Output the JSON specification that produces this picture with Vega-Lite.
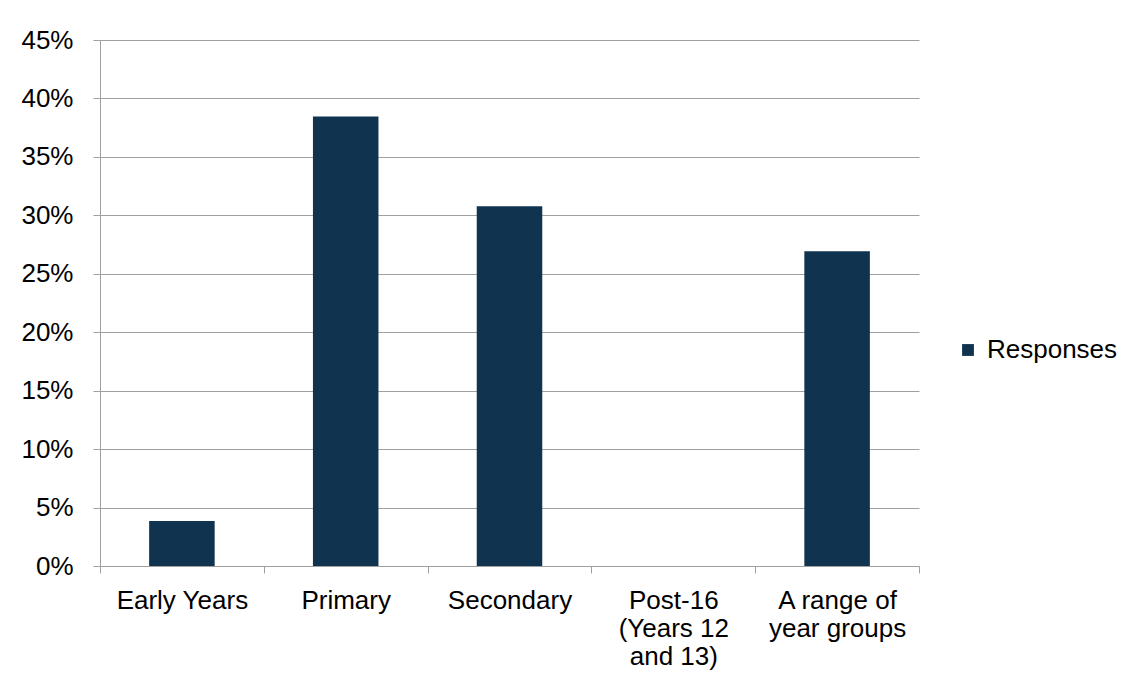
{
  "$schema": "https://vega.github.io/schema/vega-lite/v6.json",
  "width": 819,
  "height": 526,
  "autosize": {"type": "none"},
  "padding": {"left": 100, "top": 40, "right": 208, "bottom": 119},
  "background": "white",
  "data": {
    "values": [
      {"group": "Early Years", "share": 0.0385, "series": "Responses"},
      {"group": "Primary", "share": 0.3846, "series": "Responses"},
      {"group": "Secondary", "share": 0.3077, "series": "Responses"},
      {"group": "Post-16 (Years 12 and 13)", "share": 0, "series": "Responses"},
      {"group": "A range of year groups", "share": 0.2692, "series": "Responses"}
    ]
  },
  "mark": {"type": "bar", "width": {"band": 0.4}},
  "encoding": {
    "x": {
      "field": "group",
      "type": "nominal",
      "sort": null,
      "scale": {"paddingInner": 0, "paddingOuter": 0},
      "axis": {
        "title": null,
        "labelAngle": 0,
        "labelFont": "Liberation Sans",
        "labelFontSize": 26,
        "labelColor": "#000000",
        "labelLineHeight": 28,
        "labelPadding": 14,
        "tickSize": 7,
        "tickBand": "extent",
        "tickColor": "#A0A0A0",
        "domainColor": "#A0A0A0",
        "labelLimit": 300,
        "labelExpr": "datum.value == 'Post-16 (Years 12 and 13)' ? ['Post-16', '(Years 12', 'and 13)'] : datum.value == 'A range of year groups' ? ['A range of', 'year groups'] : datum.value"
      }
    },
    "y": {
      "field": "share",
      "type": "quantitative",
      "scale": {"domain": [0, 0.45], "nice": false},
      "axis": {
        "title": null,
        "format": ".0%",
        "values": [0, 0.05, 0.1, 0.15, 0.2, 0.25, 0.3, 0.35, 0.4, 0.45],
        "labelFont": "Liberation Sans",
        "labelFontSize": 26,
        "labelColor": "#000000",
        "labelPadding": 20,
        "tickSize": 7,
        "tickColor": "#A0A0A0",
        "domainColor": "#A0A0A0",
        "gridColor": "#A0A0A0",
        "grid": true
      }
    },
    "color": {
      "field": "series",
      "type": "nominal",
      "scale": {"range": ["#10334F"]},
      "legend": {
        "title": null,
        "orient": "none",
        "legendX": 855,
        "legendY": 297,
        "symbolType": "square",
        "symbolSize": 140,
        "symbolStrokeWidth": 0,
        "labelFont": "Liberation Sans",
        "labelFontSize": 26,
        "labelColor": "#000000",
        "labelOffset": 6
      }
    }
  },
  "config": {
    "view": {"stroke": null}
  }
}
